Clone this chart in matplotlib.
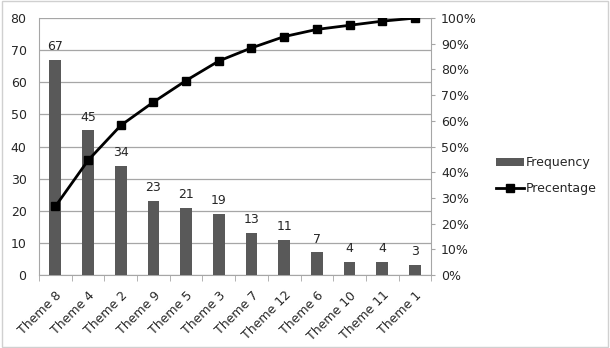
import matplotlib
matplotlib.use("Agg")
import matplotlib.pyplot as plt
from matplotlib.patches import Rectangle
from matplotlib.ticker import FixedLocator

categories = ["Theme 8", "Theme 4", "Theme 2", "Theme 9", "Theme 5", "Theme 3",
              "Theme 7", "Theme 12", "Theme 6", "Theme 10", "Theme 11", "Theme 1"]
frequency = [67, 45, 34, 23, 21, 19, 13, 11, 7, 4, 4, 3]
percentage = [26.7, 44.6, 58.2, 67.3, 75.7, 83.3, 88.4, 92.8, 95.6, 97.2, 98.8, 100.0]

plt.rcParams['font.family'] = ['DejaVu Sans']
txt = '#262626'
fig = plt.figure(figsize=(6.10, 3.48), dpi=100)
fig.patches.append(Rectangle((0.003, 0.003), 0.994, 0.994, transform=fig.transFigure,
                             fill=False, edgecolor='#d0d0d0', linewidth=1.0))

ax = fig.add_axes([0.064, 0.210, 0.643, 0.738])
x = list(range(len(categories)))
bars = ax.bar(x, frequency, width=0.36, color='#595959', zorder=3, label='Frequency')
for xi, v in zip(x, frequency):
    ax.annotate(str(v), (xi, v), xytext=(0, 5), textcoords='offset points',
                ha='center', va='bottom', fontsize=9, color=txt)
ax.set_xlim(-0.5, len(categories) - 0.5)
ax.set_ylim(0, 80)
ax.set_yticks(range(0, 81, 10))
ax.grid(axis='y', color='#a6a6a6', linewidth=0.9, zorder=0)
ax.set_xticks(x)
ax.set_xticklabels(categories, rotation=45, ha='right', rotation_mode='anchor',
                   fontsize=9, color=txt)
ax.xaxis.set_minor_locator(FixedLocator([i - 0.5 for i in range(len(categories) + 1)]))
ax.tick_params(axis='x', which='major', length=0, pad=10)
ax.tick_params(axis='x', which='minor', length=4, color='#a6a6a6', direction='out')
ax.tick_params(axis='y', length=0, labelsize=9, pad=9, labelcolor=txt)
for s in ['top', 'right']:
    ax.spines[s].set_visible(False)
for s in ['left', 'bottom']:
    ax.spines[s].set_color('#a6a6a6')

ax2 = ax.twinx()
line, = ax2.plot(x, percentage, color='black', linewidth=2, marker='s', markersize=6,
                 zorder=5, label='Precentage')
ax2.set_ylim(0, 100)
ax2.set_yticks(range(0, 101, 10))
ax2.set_yticklabels([f"{v}%" for v in range(0, 101, 10)])
ax2.tick_params(axis='y', length=3, color='#a6a6a6', labelsize=9, pad=4, labelcolor=txt)
for s in ['top', 'left', 'bottom']:
    ax2.spines[s].set_visible(False)
ax2.spines['right'].set_color('#a6a6a6')

leg = fig.legend(handles=[bars, line], labels=['Frequency', 'Precentage'],
                 loc='center left', bbox_to_anchor=(0.795, 0.495), frameon=False,
                 fontsize=9, handlelength=2.2, labelspacing=1.0, handletextpad=0.2)
for t in leg.get_texts():
    t.set_color(txt)

fig.savefig('out.png', dpi=100)
